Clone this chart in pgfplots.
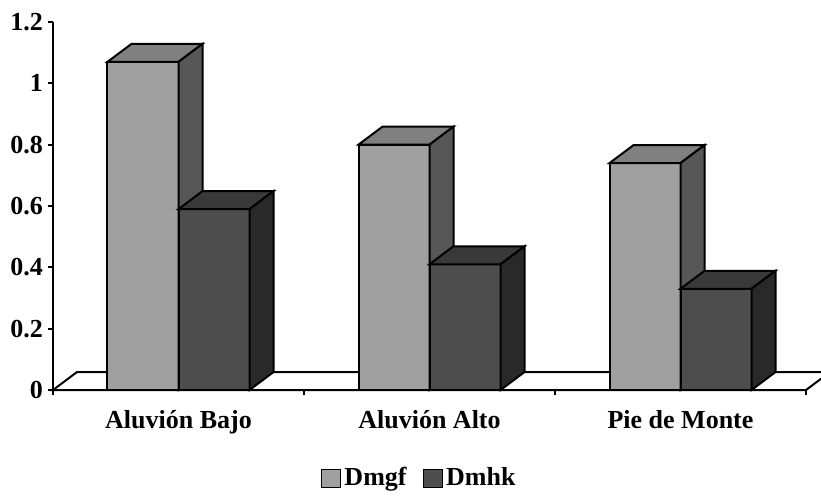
\documentclass[border=0pt]{standalone}
\usepackage{pgfplots}
\usepackage{pgfplotstable}
\pgfplotsset{compat=1.18}
\usepackage{fontspec}
\setmainfont{Liberation Serif}

\definecolor{dmgf}{HTML}{A0A0A0}
\definecolor{dmgftop}{HTML}{808080}
\definecolor{dmgfside}{HTML}{575757}
\definecolor{dmhk}{HTML}{4D4D4D}
\definecolor{dmhktop}{HTML}{393939}
\definecolor{dmhkside}{HTML}{292929}

\pgfplotstableread{
pos dmgf dmhk
0   1.07 0.59
1   0.80 0.41
2   0.74 0.33
}\soildata

% an invisible mark: the scatter code below draws the box faces itself
\pgfdeclareplotmark{blank}{}

\pgfplotsset{
  % top and right faces of a 3D column; #1 = left edge of the column
  % relative to the category centre, #2 = top colour, #3 = side colour
  bar faces/.style n args={3}{
    scatter, only marks, mark=blank, forget plot,
    visualization depends on={rawy \as \barval},
    scatter/@pre marker code/.code={%
      \pgfmathsetlengthmacro\barh{\barval*306.667pt}%
      \filldraw[fill=#2, draw=black, line width=2pt]
        (#1,0pt) -- ++(71pt,0pt) -- ++(24pt,18pt) -- ++(-71pt,0pt) -- cycle;
      \filldraw[fill=#3, draw=black, line width=2pt]
        (#1+71pt,0pt) -- ++(24pt,18pt) -- ++(0pt,-\barh) -- ++(-24pt,-18pt) -- cycle;
    },
    scatter/@post marker code/.code={},
  },
  front bar/.style={
    ybar, bar width=71pt, draw=black, line width=2pt,
    legend image code/.code={%
      \draw[##1, line width=1.6pt] (0pt,-10pt) rectangle (19pt,8pt);},
  },
}

\begin{document}
\begin{tikzpicture}
\useasboundingbox (-53pt,-105pt) rectangle (768pt,390pt);
\clip (-53pt,-105pt) rectangle (768pt,390pt);
\begin{axis}[
  at={(0pt,0pt)}, anchor=south west,
  x=251pt, y=306.667pt,
  xmin=-0.5, xmax=2.5, ymin=0, ymax=1.2,
  clip=false, clip marker paths=true,
  axis x line=bottom, axis y line=left,
  axis line style={-, line width=2pt},
  tick align=outside,
  xtick={0,1,2},
  xticklabels={Aluvión Bajo, Aluvión Alto, Pie de Monte},
  minor xtick={-0.5,0.5,1.5,2.5},
  major x tick style={draw=none},
  minor x tick style={black, line width=1.8pt},
  ytick={0,0.2,0.4,0.6,0.8,1,1.2},
  y tick style={black, line width=1.8pt},
  major tick length=5pt, minor tick length=5pt,
  tick label style={font=\bfseries\fontsize{26}{30}\selectfont},
  /pgf/number format/assume math mode=true,
  yticklabel style={anchor=east, inner sep=0pt, xshift=-5pt},
  xticklabel style={anchor=base, inner sep=0pt, yshift=-33pt},
  legend style={at={(0.487,-0.238)}, anchor=center, draw=none, fill=none,
    legend columns=-1, font=\bfseries\fontsize{26}{30}\selectfont,
    inner sep=0pt, nodes={inner xsep=3pt, inner ysep=2pt},
    /tikz/every even column/.append style={column sep=13pt}},
]
% floor of the chart
\draw[fill=white, line width=2pt]
  (axis cs:-0.5,0) -- ++(24pt,18pt) -- ++(753pt,0pt) -- (axis cs:2.5,0) -- cycle;

\addplot[front bar, bar shift=-35.5pt, fill=dmgf] table[x=pos, y=dmgf] {\soildata};
\addplot[bar faces={-71pt}{dmgftop}{dmgfside}] table[x=pos, y=dmgf] {\soildata};
\addplot[front bar, bar shift=35.5pt, fill=dmhk] table[x=pos, y=dmhk] {\soildata};
\addplot[bar faces={0pt}{dmhktop}{dmhkside}] table[x=pos, y=dmhk] {\soildata};
\legend{Dmgf, Dmhk}
\end{axis}
\end{tikzpicture}
\end{document}
